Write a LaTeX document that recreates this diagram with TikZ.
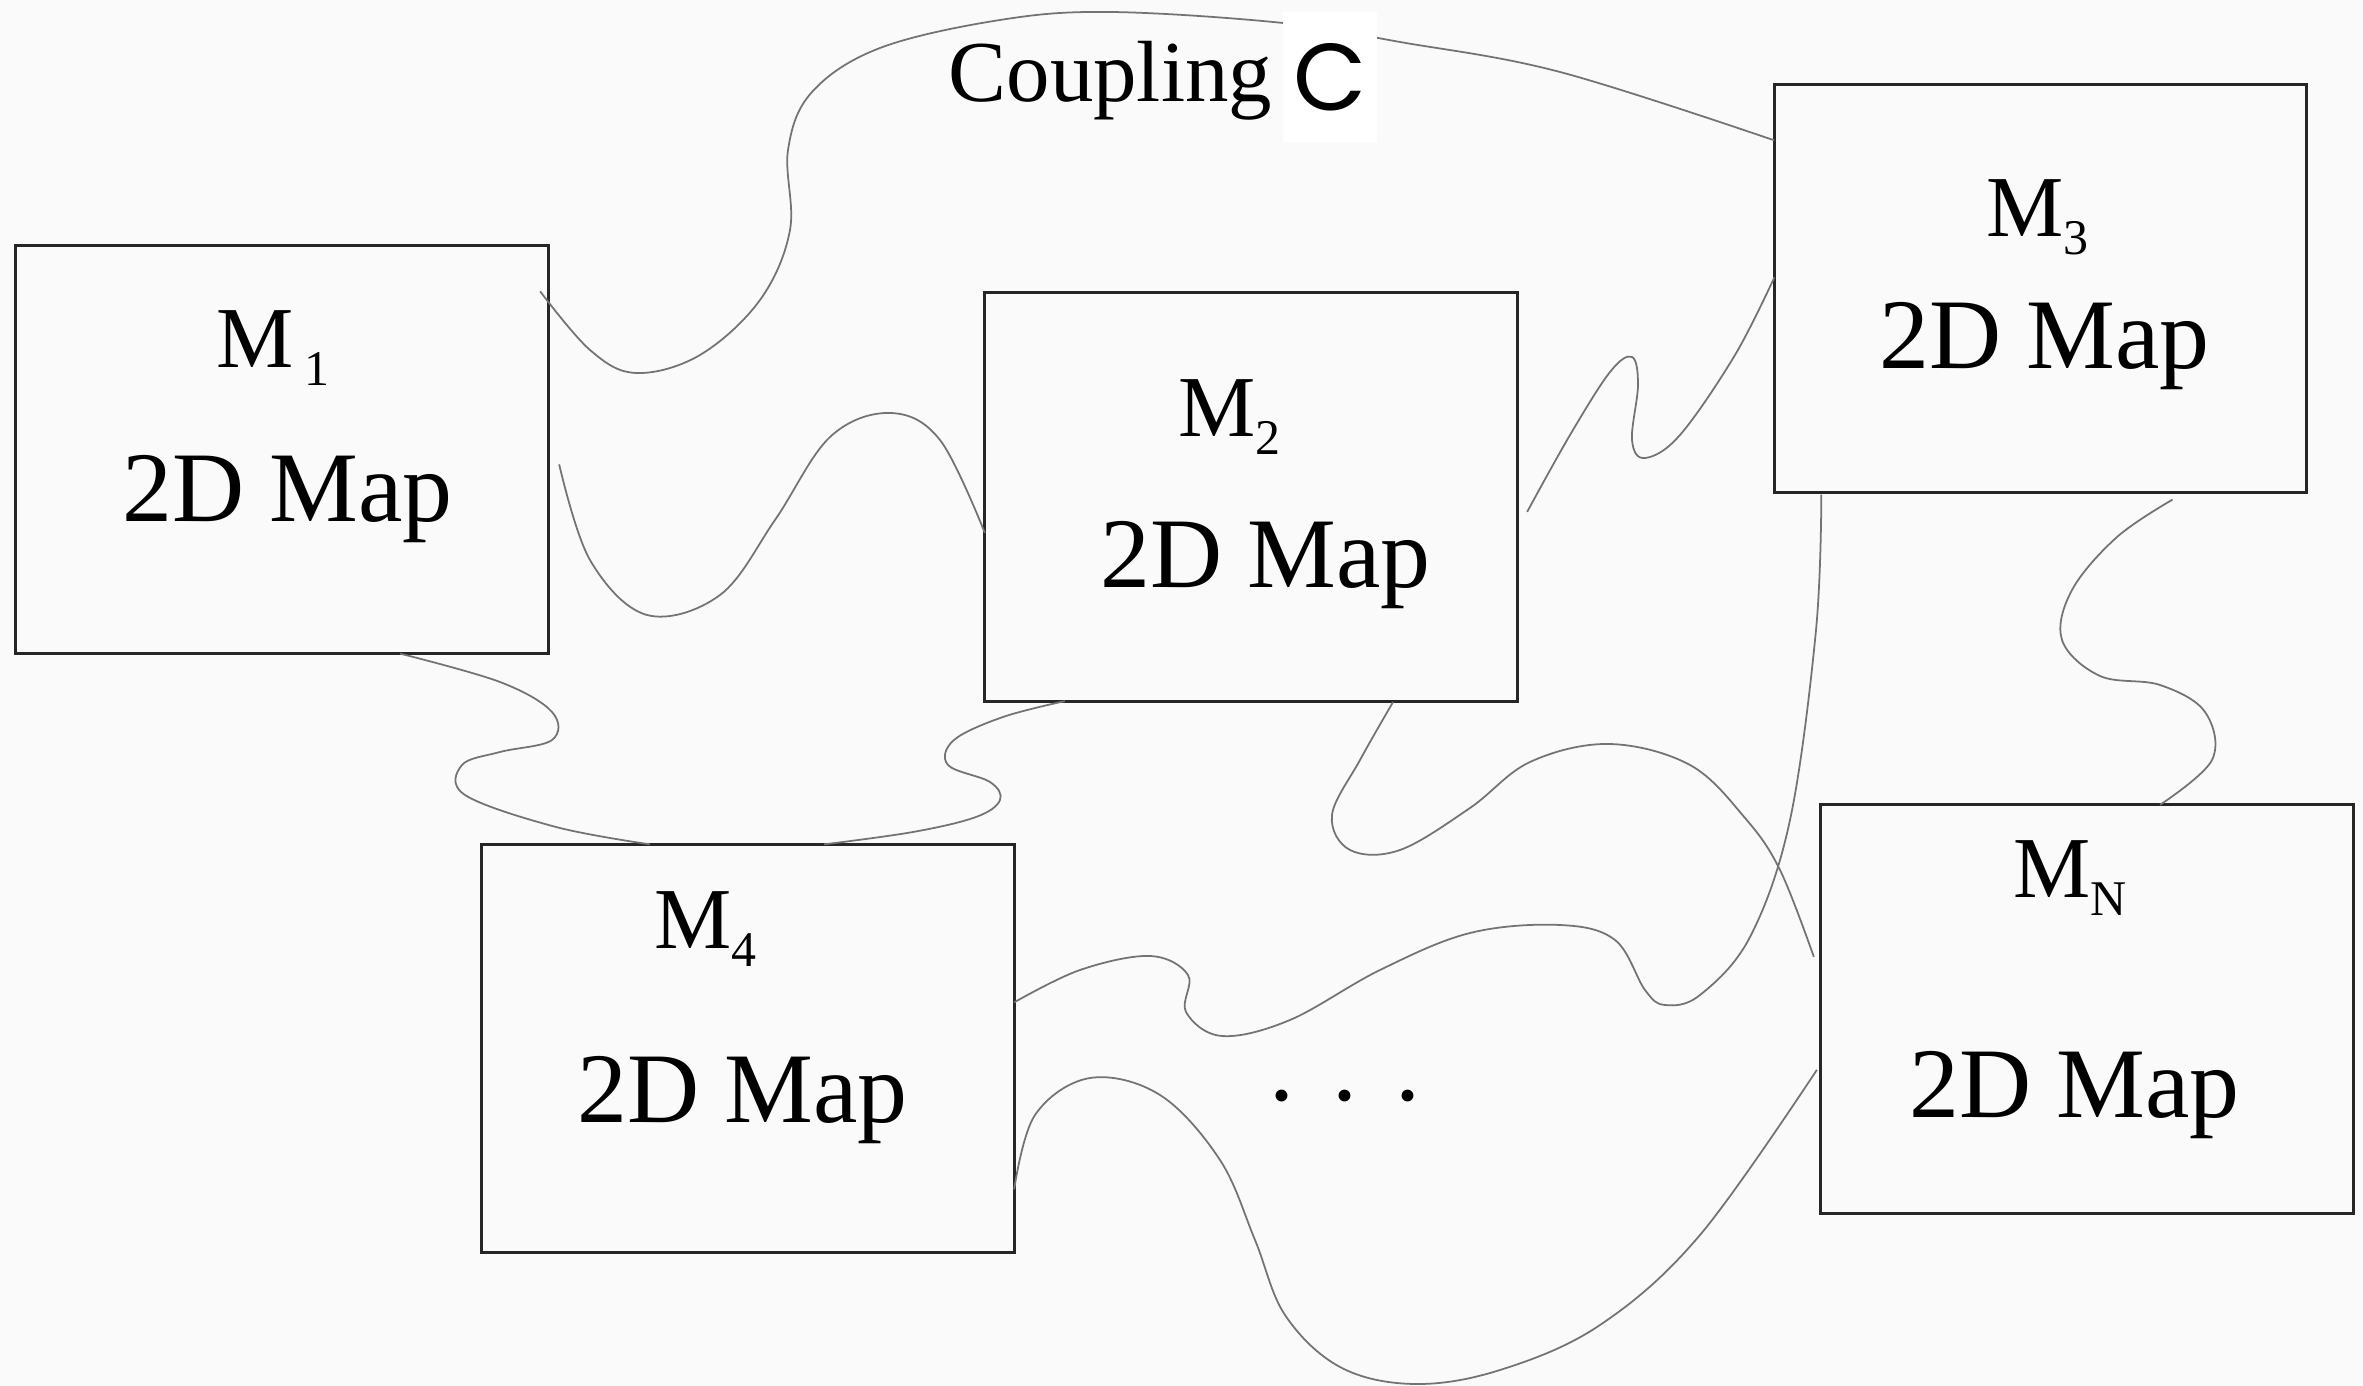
\documentclass[tikz,border=0pt]{standalone}
\usepackage{fontspec}
\setmainfont{Liberation Serif}
\newfontfamily\gfont{Poppins}
\usetikzlibrary{calc}
\definecolor{bgcol}{HTML}{FAFAFA}
\newcommand{\msub}[1]{\raisebox{-0.2em}{\fontsize{14.2}{15}\selectfont #1}}

\begin{document}
\begin{tikzpicture}[
    x=0.01cm, y=-0.01cm,
    mapbox/.style={rectangle, draw=black!85, line width=0.85pt, minimum width=5.32cm, minimum height=4.08cm, inner sep=0pt, outer sep=0pt},
    mname/.style={anchor=base west, inner sep=0pt, font=\fontsize{24.7}{26}\selectfont},
    mtext/.style={anchor=base west, inner sep=0pt, font=\fontsize{28.4}{30}\selectfont},
    link/.style={draw=black!55, line width=0.5pt},
    wave/.style={smooth, tension=0.6},
    cbox/.style={rectangle, fill=white, minimum width=0.93cm, minimum height=1.30cm, inner sep=0pt, font=\fontsize{27}{28}\selectfont}
]

\fill[bgcol] (0,0) rectangle (2363,1386);

% the maps
\node[mapbox] (b1) at (282,449.5) {};
\node[mapbox] (b2) at (1251,497) {};
\node[mapbox] (b3) at (2040.5,288.5) {};
\node[mapbox] (b4) at (748,1048.5) {};
\node[mapbox] (bN) at (2087,1009) {};

\node[mname] (m1) at (216,368) {M\hspace{0.12em}\msub{1}};
\node[mtext] (t1) at (122,522) {2D Map};
\node[mname] (m2) at (1178,437) {M\msub{2}};
\node[mtext] (t2) at (1100,588) {2D Map};
\node[mname] (m3) at (1986,237) {M\msub{3}};
\node[mtext] (t3) at (1879,369) {2D Map};
\node[mname] (m4) at (654,949) {M\msub{4}};
\node[mtext] (t4) at (577,1123) {2D Map};
\node[mname] (mN) at (2013,898) {M\msub{N}};
\node[mtext] (tN) at (1909,1118) {2D Map};

\node[font=\fontsize{28.4}{30}\selectfont, inner sep=0pt] (dots) at (1345,1096) {.\hspace{0.38em}.\hspace{0.38em}.};

% couplings
\draw[link] plot[wave] coordinates {($(b1.north east)+(-8,46)$) (590,350) (636,373) (700,355) (760,300) (790,230) (788,150) (812,92) (880,48) (1000,20) (1110,12) (1283,23) (1400,42) (1560,72) ($(b3.north west)+(0,56)$)};
\draw[link] plot[wave] coordinates {($(b1.north east)+(11,219)$) (590,560) (647,615) (720,595) (775,520) (830,437) (890,413) (940,440) ($(b2.north west)+(0,240)$)};
\draw[link] plot[wave] coordinates {($(b1.south)+(118,0)$) (500,682) (552,712) (552,740) (500,752) (462,765) (465,795) (556,827) ($(b4.north)+(-98,0)$)};
\draw[link] plot[wave] coordinates {($(b2.south west)+(80,0)$) (1003,717) (954,740) (948,765) (990,782) (1000,800) (976,817) (913,832) ($(b4.north)+(76,0)$)};
\draw[link] plot[wave] coordinates {($(b2.north east)+(10,219)$) (1570,435) (1610,372) (1632,357) (1638,385) (1632,440) (1645,458) (1680,435) (1735,355) ($(b3.north west)+(0,193)$)};
\draw[link] plot[wave] coordinates {($(b3.south)+(132,7)$) (2117,537) (2072,590) (2062,640) (2100,676) (2160,685) (2205,712) (2212,760) ($(bN.north)+(73,0)$)};
\draw[link] plot[wave] coordinates {($(b2.south)+(142,1)$) (1360,760) (1332,815) (1350,850) (1400,850) (1470,808) (1530,762) (1609,744) (1690,765) (1745,818) (1780,870) ($(bN.north west)+(-7,152)$)};
\draw[link] plot[wave] coordinates {($(b4.north east)+(0,158)$) (1080,970) (1150,956) (1188,975) (1186,1012) (1222,1036) (1290,1020) (1380,970) (1470,933) (1560,925) (1615,940) (1645,990) (1665,1005) (1700,995) (1750,937) (1790,820) (1816,630) ($(b3.south west)+(47,2)$)};
\draw[link] plot[wave] coordinates {($(b4.north east)+(0,345)$) (1035,1115) (1090,1078) (1160,1095) (1220,1160) (1255,1240) (1285,1315) (1340,1367) (1414,1384) (1500,1370) (1600,1325) (1700,1235) ($(bN.north west)+(-4,265)$)};

\node[mname] (coup) at (948,102) {Coupling};
\node[cbox] (cc) at (1330,77) {\gfont C};

\end{tikzpicture}
\end{document}
